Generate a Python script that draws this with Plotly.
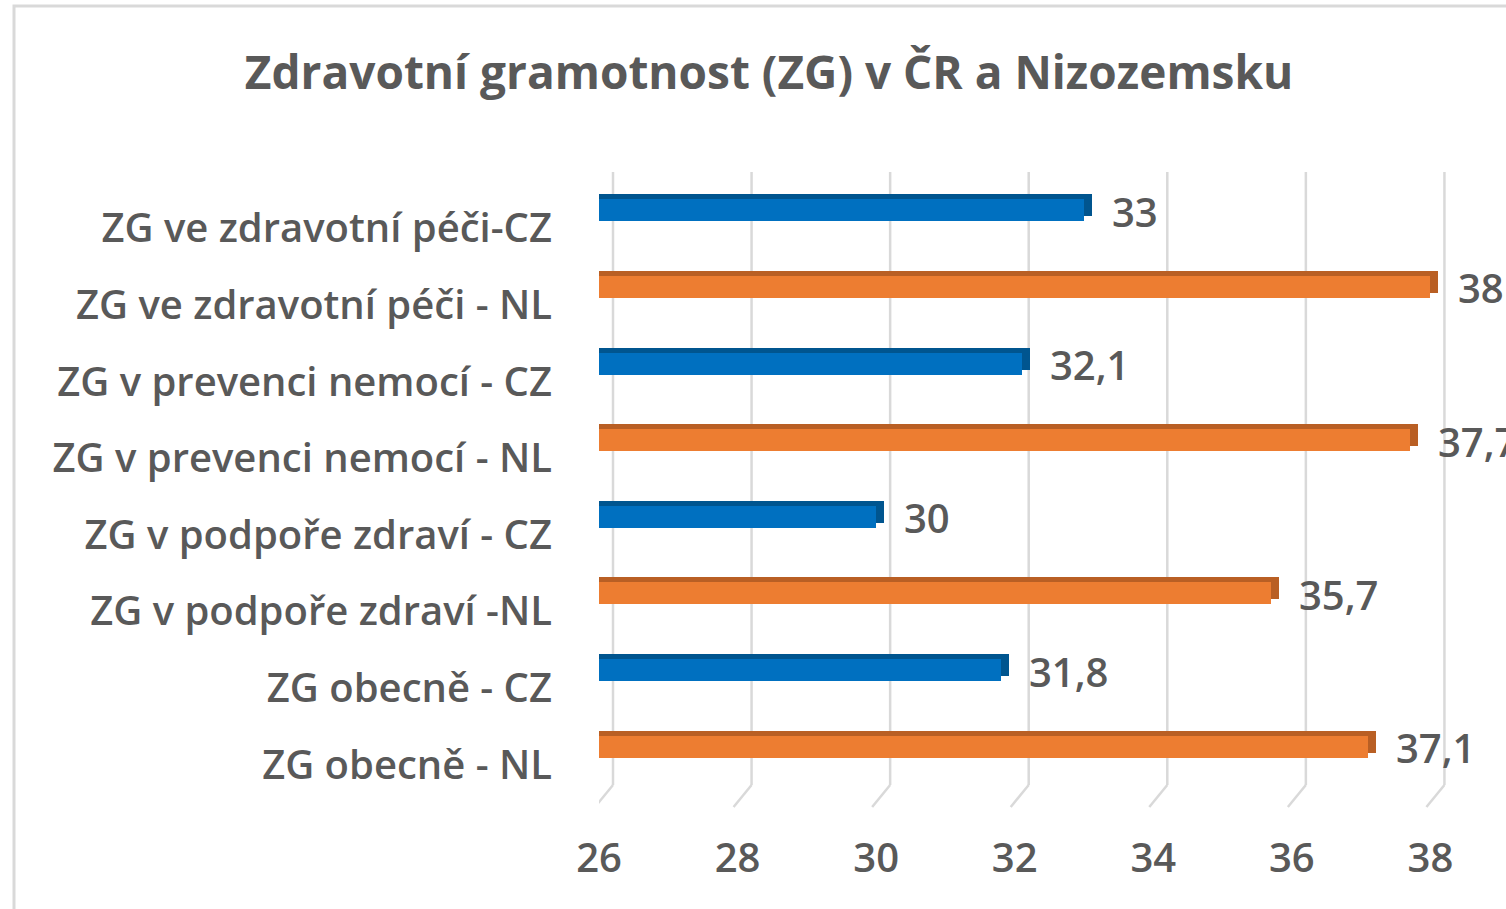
import plotly.graph_objects as go

# ---- data ----
categories = [
    "ZG ve zdravotní péči-CZ",
    "ZG ve zdravotní péči - NL",
    "ZG v prevenci nemocí - CZ",
    "ZG v prevenci nemocí - NL",
    "ZG v podpoře zdraví - CZ",
    "ZG v podpoře zdraví -NL",
    "ZG obecně - CZ",
    "ZG obecně - NL",
]
values = [33, 38, 32.1, 37.7, 30, 35.7, 31.8, 37.1]
countries = ["CZ", "NL", "CZ", "NL", "CZ", "NL", "CZ", "NL"]
x_ticks = [26, 28, 30, 32, 34, 36, 38]
title_text = "Zdravotní gramotnost (ZG) v ČR a Nizozemsku"

# ---- styling ----
FRONT = {"CZ": "#0070C0", "NL": "#ED7D31"}
DARK = {"CZ": "#00558F", "NL": "#B95F24"}
TEXT = "#595959"
GRID = "#D9D9D9"
FONT = "Open Sans"

W, H = 1506, 909
L, R, T, B = 599, 34, 172, 124
X_MIN, X_MAX = 26, 38.6
px_per_unit = (W - L - R) / (X_MAX - X_MIN)
ncat = len(categories)
px_per_cat = (H - T - B) / ncat

bar_w = 22 / px_per_cat
depth_x = 8 / px_per_unit
depth_y = 5 / px_per_cat

labels = [("%g" % v).replace(".", ",") for v in values]

fig = go.Figure()

# 3D "depth" (top + right faces)
fig.add_trace(go.Bar(
    y=categories, x=[v + depth_x for v in values], orientation="h",
    width=bar_w, offset=-bar_w / 2 + depth_y,
    marker=dict(color=[DARK[c] for c in countries], line=dict(width=0)),
    hoverinfo="skip", showlegend=False,
))
# front faces
fig.add_trace(go.Bar(
    y=categories, x=values, orientation="h",
    width=bar_w, offset=-bar_w / 2,
    marker=dict(color=[FRONT[c] for c in countries], line=dict(width=0)),
    showlegend=False,
))

# value labels
for cat, v, lab in zip(categories, values, labels):
    fig.add_annotation(
        x=v, y=cat, xref="x", yref="y", text=lab, showarrow=False,
        xanchor="left", yanchor="middle", xshift=26, yshift=-1,
        font=dict(family=FONT, size=40, color=TEXT, weight=600),
    )

# back-wall gridlines and floor stubs (offset like Excel's 3D view)
grid_off = 14 / px_per_unit
floor_dx = 18 / px_per_unit
floor_dy = 22 / (H - T - B)
shapes = []
for t in x_ticks:
    shapes.append(dict(type="line", xref="x", yref="paper", x0=t + grid_off, x1=t + grid_off,
                       y0=0, y1=1, line=dict(color=GRID, width=2.5), layer="below"))
    shapes.append(dict(type="line", xref="x", yref="paper", x0=t + grid_off, x1=t + grid_off - floor_dx,
                       y0=0, y1=-floor_dy, line=dict(color=GRID, width=2.5), layer="below"))
# chart border
shapes.append(dict(type="rect", xref="paper", yref="paper",
                   x0=(14 - L) / (W - L - R), x1=1.3,
                   y0=-0.5, y1=(H - B - 6) / (H - T - B),
                   line=dict(color="#D9D9D9", width=3), fillcolor="rgba(0,0,0,0)", layer="below"))

fig.update_layout(
    width=W, height=H,
    margin=dict(l=L, r=R, t=T, b=B),
    paper_bgcolor="white", plot_bgcolor="white",
    barmode="overlay", bargap=0,
    shapes=shapes,
    title=dict(text=title_text, x=769 / W, xref="container", xanchor="center",
               y=1 - 73 / H, yref="container", yanchor="middle",
               font=dict(family=FONT, size=46, color=TEXT, weight="bold")),
    xaxis=dict(range=[X_MIN, X_MAX], tickvals=x_ticks, ticktext=[str(t) for t in x_ticks],
               showgrid=False, zeroline=False, showline=False, ticks="",
               ticklabelstandoff=46,
               tickfont=dict(family=FONT, size=40, color=TEXT, weight=600)),
    yaxis=dict(type="category", categoryorder="array", categoryarray=list(reversed(categories)),
               range=[-0.5, ncat - 0.5],
               showgrid=False, zeroline=False, showline=False, ticks="",
               ticklabelstandoff=46, ticklabelshift=18,
               tickfont=dict(family=FONT, size=40, color=TEXT, weight=600)),
    showlegend=False,
)

fig.write_html(
    "out.html",
    config={"displayModeBar": False},
    post_script="document.body.style.margin='0';document.body.style.padding='0';",
)
